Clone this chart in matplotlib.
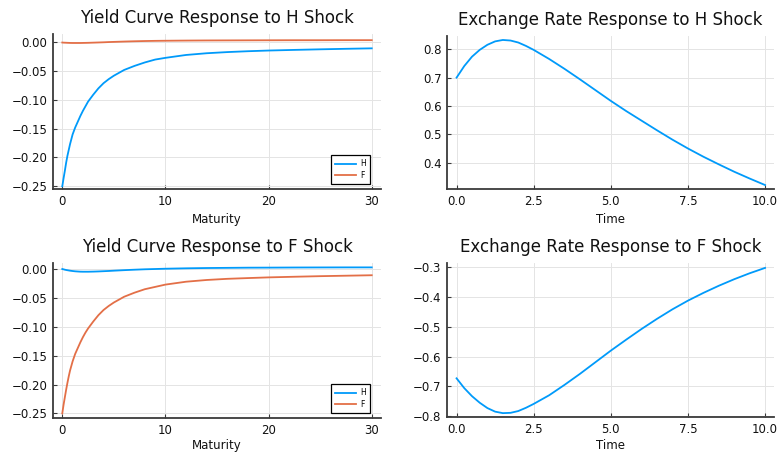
import numpy as np
import matplotlib
matplotlib.use('Agg')
import matplotlib.pyplot as plt
from matplotlib.ticker import FuncFormatter

# ── data ──────────────────────────────────────────────────────────────────────
maturity = [0, 0.125, 0.25, 0.375, 0.5, 0.625, 0.75, 1, 1.25, 1.5, 1.75, 2,
            2.25, 2.5, 3, 3.5, 4, 4.5, 5, 6, 7, 8, 9, 10,
            12, 14, 16, 18, 20, 22.5, 25, 27.5, 30]

# yield responses to an H shock
yc_h_shock_H = [-0.250, -0.236, -0.223, -0.209, -0.197, -0.187, -0.177, -0.160,
                -0.148, -0.138, -0.128, -0.119, -0.111, -0.103,
                -0.091, -0.080, -0.071, -0.064, -0.058, -0.048, -0.041, -0.035,
                -0.030, -0.027, -0.022, -0.019, -0.017, -0.0155, -0.0143,
                -0.0132, -0.0122, -0.0113, -0.0105]
yc_h_shock_F = [-0.0004, -0.0006, -0.0007, -0.0008, -0.0009, -0.0010, -0.0011,
                -0.0012, -0.0012, -0.0012, -0.0012, -0.0011, -0.0010,
                -0.0009, -0.0006, -0.0003, 0.0000, 0.0004, 0.0007, 0.0013,
                0.0018, 0.0022, 0.0025, 0.0027, 0.0030, 0.0032, 0.0033, 0.0034,
                0.0035, 0.0036, 0.0036, 0.0037, 0.0037]

# yield responses to an F shock
yc_f_shock_H = [0.0000, -0.0006, -0.0012, -0.0017, -0.0021, -0.0025, -0.0029,
                -0.0035, -0.0040, -0.0043, -0.0046, -0.0047, -0.0047,
                -0.0047, -0.0045, -0.0042, -0.0038, -0.0034, -0.0029, -0.0020,
                -0.0012, -0.0005, 0.0000, 0.0005, 0.0012, 0.0017, 0.0020,
                0.0023, 0.0024, 0.0026, 0.0027, 0.0028, 0.0028]
yc_f_shock_F = [-0.250, -0.235, -0.222, -0.209, -0.197, -0.186, -0.176, -0.160,
                -0.147, -0.137, -0.127, -0.118, -0.110, -0.103,
                -0.091, -0.080, -0.071, -0.064, -0.058, -0.048, -0.041, -0.035,
                -0.031, -0.027, -0.022, -0.019, -0.017, -0.0157, -0.0145,
                -0.0134, -0.0124, -0.0116, -0.0108]

time = [0, 0.25, 0.5, 0.75, 1.0, 1.25, 1.5, 1.75, 2.0, 2.25, 2.5, 3.0, 3.5,
        4.0, 4.5, 5.0, 5.5, 6.0, 6.5, 7.0, 7.5, 8.0, 8.5, 9.0, 9.5, 10.0]

er_h_shock = [0.700, 0.741, 0.774, 0.798, 0.816, 0.828, 0.833, 0.831, 0.824,
              0.812, 0.798, 0.766, 0.731, 0.694, 0.656, 0.618, 0.582, 0.548,
              0.514, 0.481, 0.450, 0.421, 0.394, 0.368, 0.344, 0.321]
er_f_shock = [-0.673, -0.706, -0.733, -0.755, -0.773, -0.785, -0.790, -0.789,
              -0.783, -0.772, -0.759, -0.730, -0.695, -0.658, -0.619, -0.580,
              -0.543, -0.507, -0.473, -0.441, -0.412, -0.386, -0.362, -0.340,
              -0.320, -0.302]

BLUE = '#009AFA'
ORANGE = '#E36F47'
SPINE = '#3a3a3a'
TEXT = '#111111'

plt.rcParams.update({
    'font.family': 'DejaVu Sans',
    'font.size': 8.5,
})

W, H = 778, 453
fig = plt.figure(figsize=(W / 100, H / 100), dpi=100)


def fmt(decimals):
    # fixed decimals with a proper minus sign
    return FuncFormatter(lambda v, _: f'{v:.{decimals}f}'.replace('-', '\u2212'))


def box(left, top, right, bottom):
    # pixel box -> figure fraction rect
    return [left / W, (H - bottom) / H, (right - left) / W, (bottom - top) / H]


def style(ax, title, xlabel, labelpad=4):
    for s in ('top', 'right'):
        ax.spines[s].set_visible(False)
    for s in ('left', 'bottom'):
        ax.spines[s].set_color(SPINE)
        ax.spines[s].set_linewidth(1.3)
    ax.grid(True, color='#e4e4e4', linewidth=0.7)
    ax.set_axisbelow(True)
    ax.tick_params(direction='in', length=3, width=0.8, color=SPINE,
                   labelsize=8.5, pad=4, labelcolor=TEXT)
    ax.set_title(title, fontsize=12, pad=8, color=TEXT)
    ax.set_xlabel(xlabel, fontsize=8.5, labelpad=labelpad, color=TEXT)


def legend(ax):
    leg = ax.legend(loc='lower right', bbox_to_anchor=(0.967, 0.03),
                    borderaxespad=0, fontsize=5.5, fancybox=False,
                    framealpha=1, edgecolor='black', handlelength=2.8,
                    handletextpad=0.5, borderpad=0.55, labelspacing=0.35)
    leg.get_frame().set_linewidth(0.9)


# (1) yield curve, H shock
ax1 = fig.add_axes(box(53, 34, 381, 189))
ax1.plot(maturity, yc_h_shock_H, color=BLUE, lw=1.3, label='H')
ax1.plot(maturity, yc_h_shock_F, color=ORANGE, lw=1.3, label='F')
ax1.set_xlim(-0.9, 30.9)
ax1.set_ylim(-0.2547, 0.0144)
ax1.set_xticks([0, 10, 20, 30])
ax1.set_yticks([0.0, -0.05, -0.10, -0.15, -0.20, -0.25])
ax1.yaxis.set_major_formatter(fmt(2))
style(ax1, 'Yield Curve Response to H Shock', 'Maturity')
legend(ax1)

# (2) exchange rate, H shock
ax2 = fig.add_axes(box(447, 36, 774, 189))
ax2.plot(time, er_h_shock, color=BLUE, lw=1.3)
ax2.set_xlim(-0.31, 10.29)
ax2.set_ylim(0.307, 0.847)
ax2.set_xticks([0, 2.5, 5, 7.5, 10])
ax2.set_yticks([0.4, 0.5, 0.6, 0.7, 0.8])
ax2.xaxis.set_major_formatter(fmt(1))
ax2.yaxis.set_major_formatter(fmt(1))
style(ax2, 'Exchange Rate Response to H Shock', 'Time')

# (3) yield curve, F shock
ax3 = fig.add_axes(box(53, 263, 381, 418))
ax3.plot(maturity, yc_f_shock_H, color=BLUE, lw=1.3, label='H')
ax3.plot(maturity, yc_f_shock_F, color=ORANGE, lw=1.3, label='F')
ax3.set_xlim(-0.9, 30.9)
ax3.set_ylim(-0.258, 0.0104)
ax3.set_xticks([0, 10, 20, 30])
ax3.set_yticks([0.0, -0.05, -0.10, -0.15, -0.20, -0.25])
ax3.yaxis.set_major_formatter(fmt(2))
style(ax3, 'Yield Curve Response to F Shock', 'Maturity', labelpad=1.5)
legend(ax3)

# (4) exchange rate, F shock
ax4 = fig.add_axes(box(447, 263, 774, 417))
ax4.plot(time, er_f_shock, color=BLUE, lw=1.3)
ax4.set_xlim(-0.31, 10.29)
ax4.set_ylim(-0.803, -0.2855)
ax4.set_xticks([0, 2.5, 5, 7.5, 10])
ax4.set_yticks([-0.3, -0.4, -0.5, -0.6, -0.7, -0.8])
ax4.xaxis.set_major_formatter(fmt(1))
ax4.yaxis.set_major_formatter(fmt(1))
style(ax4, 'Exchange Rate Response to F Shock', 'Time', labelpad=2.5)

fig.savefig('out.png', dpi=100, facecolor='white')
